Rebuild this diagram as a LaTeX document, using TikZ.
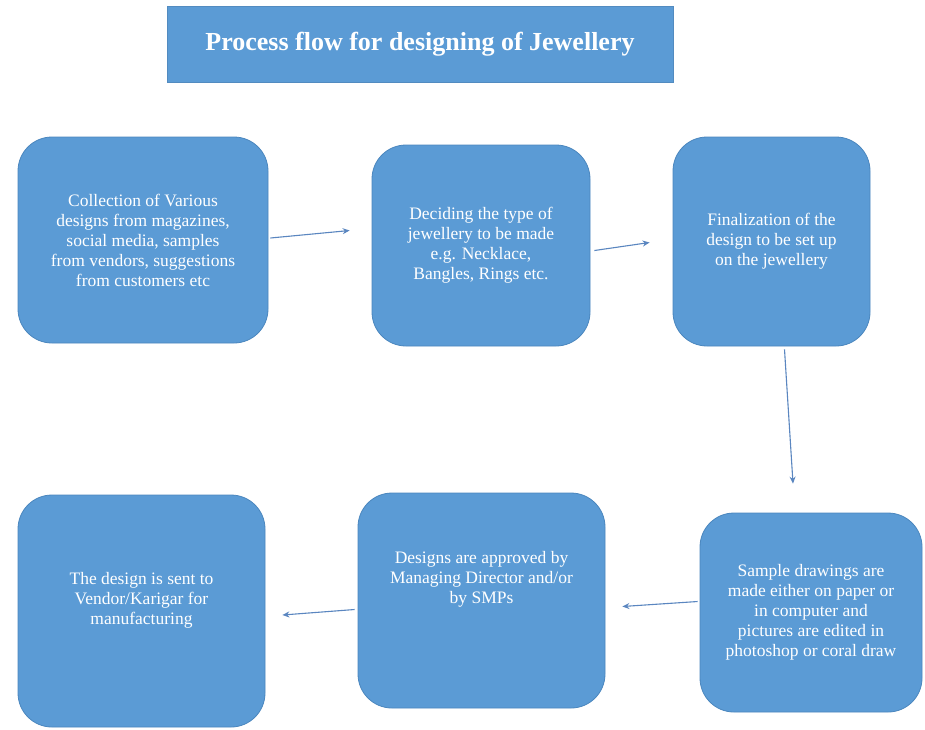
\documentclass[tikz,border=0pt]{standalone}
\usepackage{fontspec}
\setmainfont{Liberation Serif}
\usetikzlibrary{arrows.meta}
\definecolor{boxblue}{HTML}{5B9BD5}
\definecolor{boxedge}{HTML}{4A86BE}
\definecolor{arrowc}{HTML}{5A86C0}
\tikzset{
  procbox/.style={draw=boxedge, line width=0.8pt, fill=boxblue, rounded corners=34pt,
    text=white, align=center, font=\fontsize{17.5}{20}\selectfont, inner sep=0pt},
  titlebox/.style={draw=boxblue!90!black, line width=0.6pt, fill=boxblue, text=white,
    font=\fontsize{26}{30}\selectfont\bfseries},
  arr/.style={draw=arrowc, line width=1.1pt, -{Stealth[length=7pt,width=6pt]}}
}
\begin{document}
\begin{tikzpicture}[x=1pt,y=-1pt]
\useasboundingbox (0,0) rectangle (925,729);
\fill[white] (0,0) rectangle (925,729);
\node[titlebox, minimum width=506pt, minimum height=76pt] (title) at (420,44) {Process flow for designing of Jewellery};
\node[procbox, minimum width=250pt, minimum height=206pt] (b1) at (143,240)
  {Collection of Various\\designs from magazines,\\social media, samples\\from vendors, suggestions\\from customers etc};
\node[procbox, minimum width=218pt, minimum height=201pt] (b2) at (481,245.5)
  {Deciding the type of\\jewellery to be made\\e.g. Necklace,\\Bangles, Rings etc.};
\node[procbox, minimum width=197pt, minimum height=209pt] (b3) at (771.5,241.5)
  {Finalization of the\\design to be set up\\on the jewellery};
\node[procbox, minimum width=222pt, minimum height=199pt] (b4) at (811,612.5)
  {Sample drawings are\\made either on paper or\\in computer and\\pictures are edited in\\photoshop or coral draw};
\node[procbox, minimum width=247pt, minimum height=215pt] (b5) at (481.5,600.5)
  {Designs are approved by\\Managing Director and/or\\by SMPs\\\strut\\\strut};
\node[procbox, minimum width=247pt, minimum height=232pt] (b6) at (141.5,611)
  {The design is sent to\\Vendor/Karigar for\\manufacturing\\\strut};
\draw[arr] ([xshift=2pt,yshift=2pt]b1.east) -- ([xshift=-22pt,yshift=15pt]b2.west);
\draw[arr] ([xshift=4pt,yshift=-5pt]b2.east) -- ([xshift=-23pt,yshift=-1pt]b3.west);
\draw[arr] ([xshift=13pt,yshift=-3pt]b3.south) -- ([xshift=-18pt,yshift=29pt]b4.north);
\draw[arr] ([xshift=-2pt,yshift=11pt]b4.west) -- ([xshift=17pt,yshift=-6pt]b5.east);
\draw[arr] ([xshift=-3pt,yshift=-9pt]b5.west) -- ([xshift=17pt,yshift=-4pt]b6.east);
\end{tikzpicture}
\end{document}
